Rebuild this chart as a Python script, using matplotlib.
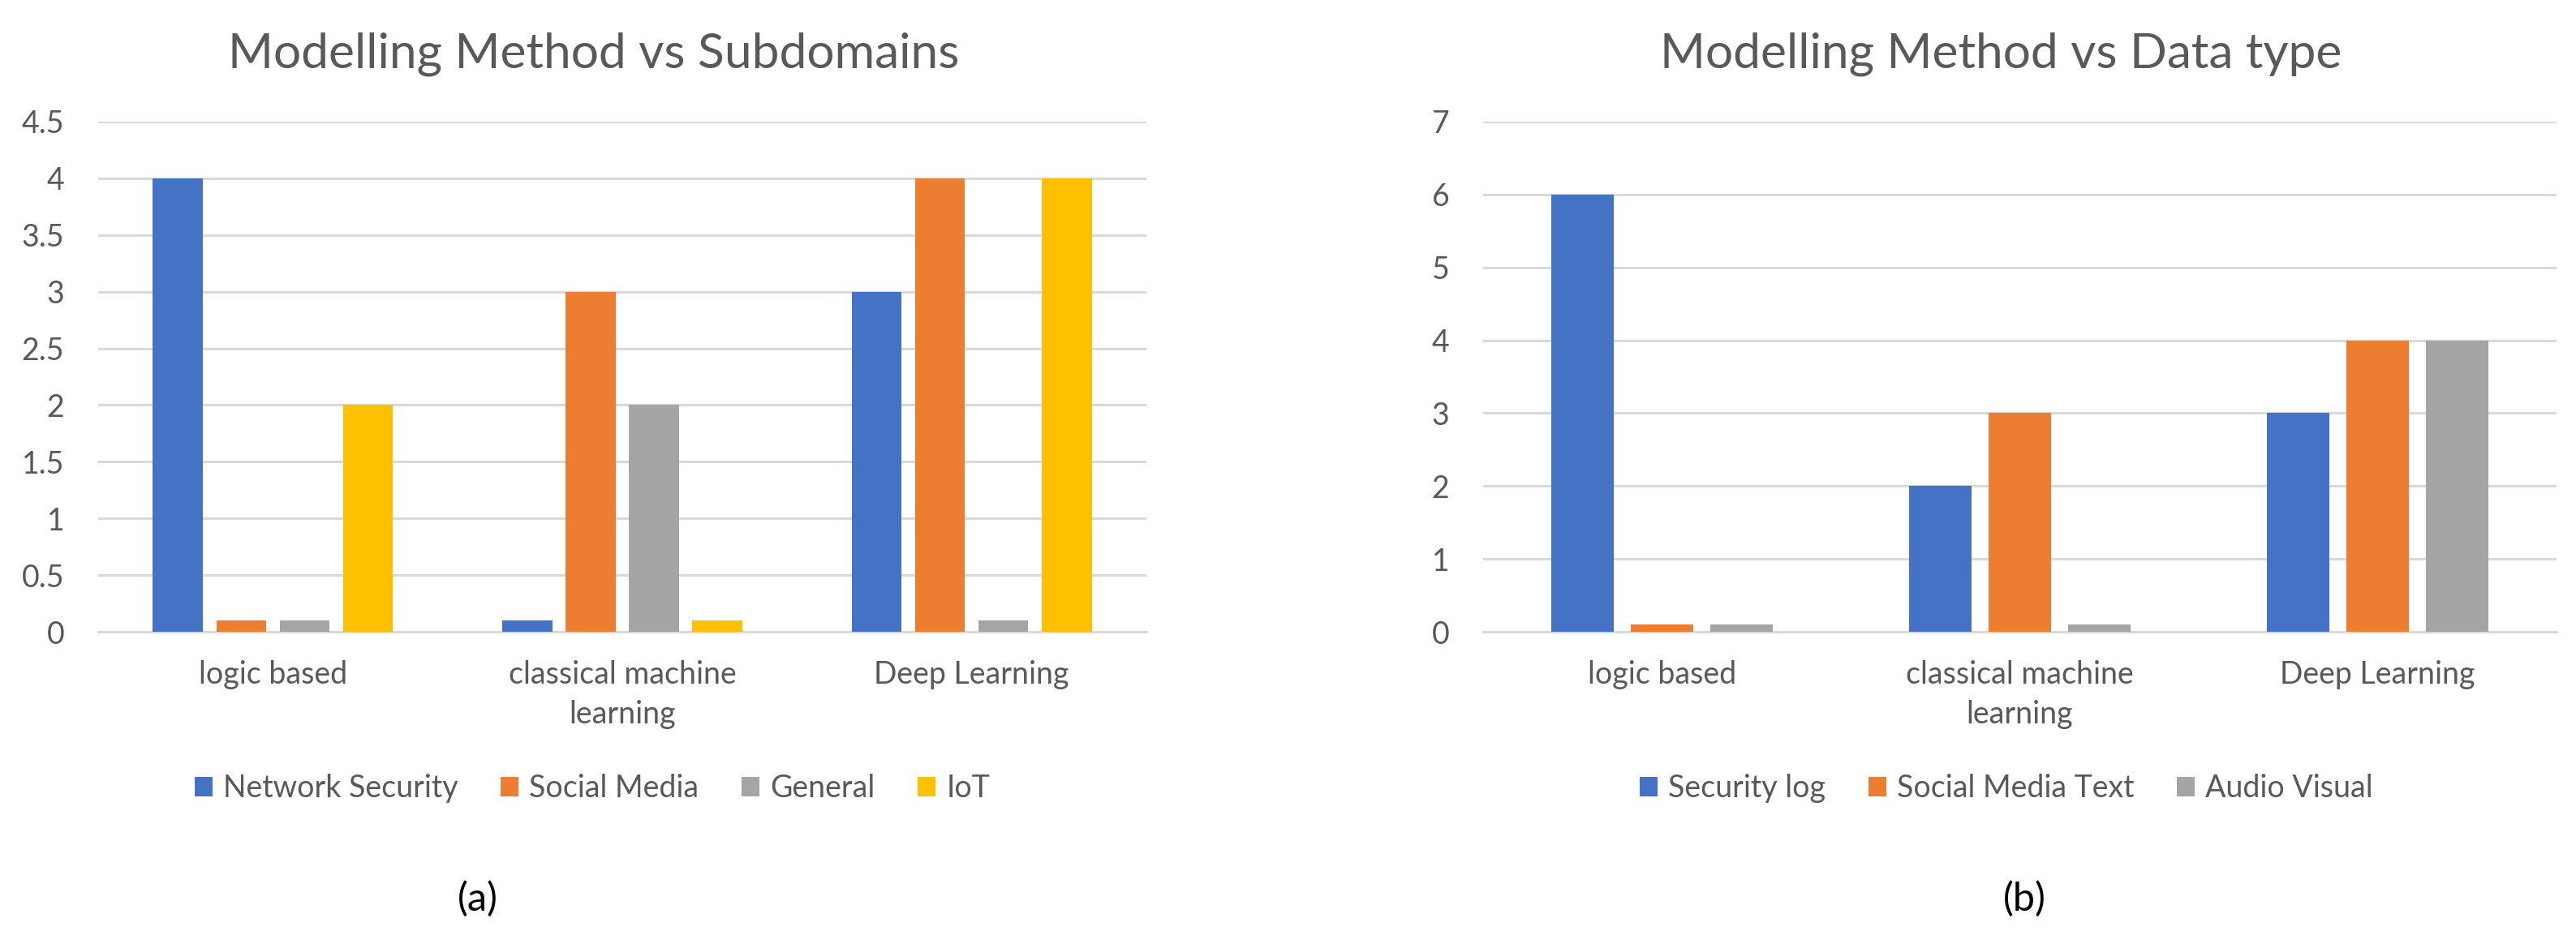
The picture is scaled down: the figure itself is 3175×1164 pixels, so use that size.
import matplotlib
matplotlib.use("Agg")
import matplotlib.pyplot as plt
import numpy as np

plt.rcParams['font.family'] = ['Lato', 'DejaVu Sans']

# ---- data ----
categories = ["logic based", "classical machine\nlearning", "Deep Learning"]

sub_series = ["Network Security", "Social Media", "General", "IoT"]
network_security = [4, 0.1, 3]
social_media = [0.1, 3, 4]
general = [0.1, 2, 0.1]
iot = [2, 0.1, 4]
sub_yticks = [0, 0.5, 1, 1.5, 2, 2.5, 3, 3.5, 4, 4.5]
sub_yticklabels = ["0", "0.5", "1", "1.5", "2", "2.5", "3", "3.5", "4", "4.5"]

dt_series = ["Security log", "Social Media Text", "Audio Visual"]
security_log = [6, 2, 3]
social_media_text = [0.1, 3, 4]
audio_visual = [0.1, 0.1, 4]
dt_yticks = [0, 1, 2, 3, 4, 5, 6, 7]

titles = ["Modelling Method vs Subdomains", "Modelling Method vs Data type"]
panel_labels = ["(a)", "(b)"]

colors = ["#4472C4", "#ED7D31", "#A5A5A5", "#FFC000"]
TXT = "#595959"
GRID = "#D9D9D9"

W, H = 3175, 1164
fig = plt.figure(figsize=(W / 100, H / 100), dpi=100)


def ax_rect(x0, x1, ytop, ybot):
    return [x0 / W, 1 - ybot / H, (x1 - x0) / W, (ybot - ytop) / H]


def draw(ax, series_vals, series_names, yticks, yticklabels, ymax):
    n = len(series_vals)
    w = 1.0 / (n + (n - 1) * 0.27 + 2.19)
    stride = 1.27 * w
    x = np.arange(len(categories))
    handles = []
    for i, (vals, name) in enumerate(zip(series_vals, series_names)):
        off = (i - (n - 1) / 2) * stride
        b = ax.bar(x + off, vals, width=w, color=colors[i], label=name, zorder=3)
        handles.append(b)
    ax.set_xlim(-0.5, len(categories) - 0.5)
    ax.set_ylim(0, ymax)
    ax.set_yticks(yticks)
    ax.set_yticklabels(yticklabels)
    ax.set_xticks(x)
    ax.set_xticklabels(categories, linespacing=1.45)
    ax.yaxis.grid(True, color=GRID, linewidth=2.2, zorder=0)
    ax.set_axisbelow(True)
    for s in ["top", "right", "left"]:
        ax.spines[s].set_visible(False)
    ax.spines["bottom"].set_color(GRID)
    ax.spines["bottom"].set_linewidth(2.2)
    ax.spines["bottom"].set_zorder(1)
    ax.tick_params(axis="both", length=0, labelsize=27, labelcolor=TXT)
    ax.tick_params(axis="y", pad=30)
    ax.tick_params(axis="x", pad=25)
    return handles


ax1 = fig.add_axes(ax_rect(121, 1413, 150, 779))
h1 = draw(ax1, [network_security, social_media, general, iot], sub_series,
          sub_yticks, sub_yticklabels, 4.5)

ax2 = fig.add_axes(ax_rect(1828, 3151, 150, 779))
h2 = draw(ax2, [security_log, social_media_text, audio_visual], dt_series,
          dt_yticks, [str(v) for v in dt_yticks], 7)

fig.text(732 / W, 1 - 83 / H, titles[0], ha="center", va="baseline",
         fontsize=43.5, color=TXT)
fig.text(2466 / W, 1 - 83 / H, titles[1], ha="center", va="baseline",
         fontsize=43.5, color=TXT)

for handles, cx in [(h1, 730), (h2, 2473)]:
    fig.legend(handles=handles, loc="center", bbox_to_anchor=(cx / W, 1 - 972 / H),
               ncol=len(handles), frameon=False, fontsize=27, labelcolor=TXT,
               handlelength=0.59, handleheight=0.59, handletextpad=0.35,
               columnspacing=1.4, borderpad=0, borderaxespad=0)

fig.text(589 / W, 1 - 1108 / H, panel_labels[0], ha="center", va="center",
         fontsize=35, color="black")
fig.text(2495 / W, 1 - 1108 / H, panel_labels[1], ha="center", va="center",
         fontsize=35, color="black")

fig.savefig("out.png", dpi=100, facecolor="white")
